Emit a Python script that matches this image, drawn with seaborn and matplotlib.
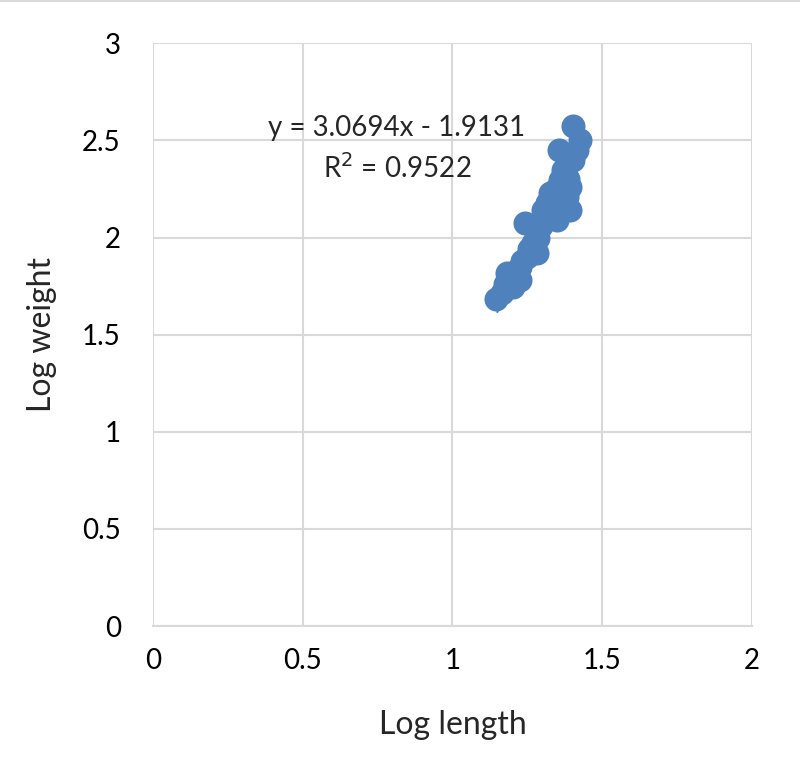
import numpy as np
import pandas as pd
import seaborn as sns
import matplotlib.pyplot as plt
from matplotlib.lines import Line2D

# Data (log length vs log weight)
log_length = [1.145, 1.165, 1.175, 1.182, 1.195, 1.202, 1.212, 1.225, 1.225, 1.232,
              1.242, 1.249, 1.255, 1.262, 1.269, 1.282, 1.286, 1.295, 1.302, 1.312,
              1.325, 1.336, 1.345, 1.349, 1.359, 1.369, 1.375, 1.382, 1.392, 1.392,
              1.402, 1.415, 1.356, 1.426, 1.402, 1.385, 1.365, 1.330, 1.315]
log_weight = [1.683, 1.714, 1.760, 1.817, 1.790, 1.745, 1.830, 1.848, 1.781, 1.880,
              2.074, 1.900, 1.940, 1.925, 1.971, 1.920, 2.000, 2.060, 2.141, 2.100,
              2.228, 2.190, 2.250, 2.090, 2.295, 2.347, 2.320, 2.210, 2.140, 2.260,
              2.398, 2.450, 2.450, 2.501, 2.573, 2.300, 2.200, 2.150, 2.180]

slope = 3.0694
intercept = -1.9131
r2 = 0.9522

df = pd.DataFrame({'Log length': log_length, 'Log weight': log_weight})

sns.set_style('white')
plt.rcParams['font.family'] = ['Lato', 'DejaVu Sans']

fig = plt.figure(figsize=(8, 7.73), dpi=100)
ax = fig.add_axes([0.191, 0.19, 0.749, 0.754])

blue = '#4F81BD'

# trendline (mostly hidden under the markers)
xs = np.array([min(log_length) + 0.005, max(log_length)])
ax.plot(xs, slope * xs + intercept, color=blue, lw=1.5, zorder=2)

sns.scatterplot(data=df, x='Log length', y='Log weight', ax=ax, color=blue,
                s=300, edgecolor=blue, linewidth=0, alpha=1, zorder=3)

ax.set_xlim(0, 2)
ax.set_ylim(0, 3)
ax.set_xticks([0, 0.5, 1, 1.5, 2])
ax.set_xticklabels(['0', '0.5', '1', '1.5', '2'])
ax.set_yticks([0, 0.5, 1, 1.5, 2, 2.5, 3])
ax.set_yticklabels(['0', '0.5', '1', '1.5', '2', '2.5', '3'])
ax.grid(True, color='#d9d9d9', lw=1.5)
ax.set_axisbelow(True)
for s in ['top', 'right', 'left']:
    ax.spines[s].set_visible(False)
ax.spines['bottom'].set_color('#d9d9d9')
ax.spines['bottom'].set_linewidth(1.5)
ax.tick_params(axis='x', length=0, labelsize=20, pad=16, colors='black')
ax.tick_params(axis='y', length=0, labelsize=20, pad=23, colors='black')

ax.set_xlabel('Log length', fontsize=23, labelpad=26)
ax.set_ylabel('Log weight', fontsize=23, labelpad=18)

ax.text(0.815, 2.565, 'y = 3.0694x - 1.9131', fontsize=20, ha='center', va='center')
ax.text(0.815, 2.36, 'R$^2$ = 0.9522', fontsize=20, ha='center', va='center')

# chart border line at the top
fig.add_artist(Line2D([0, 1], [0.9985, 0.9985], color='#d9d9d9', lw=1.5))

fig.savefig('out.png', dpi=100)
